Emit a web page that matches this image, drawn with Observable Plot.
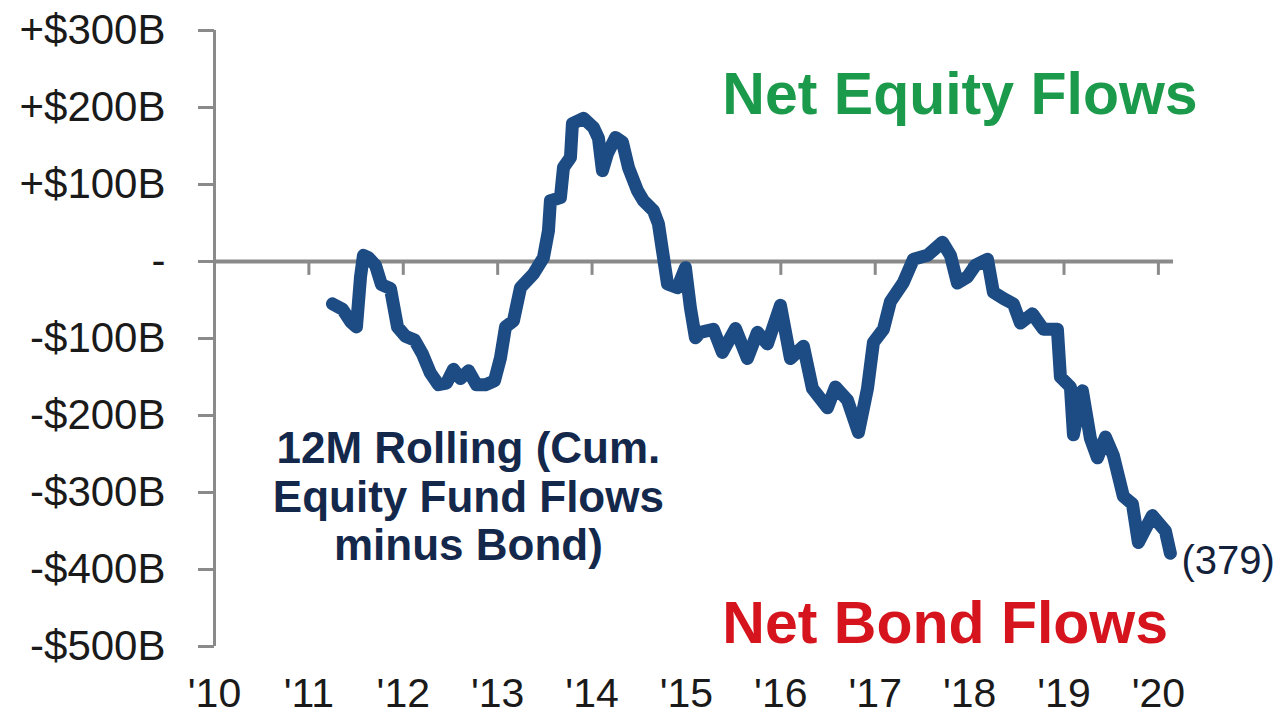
<!DOCTYPE html>
<html>
<head>
<meta charset="utf-8">
<script src="https://cdn.jsdelivr.net/npm/d3@7"></script>
<script src="https://cdn.jsdelivr.net/npm/@observablehq/plot@0.6"></script>
<style>
  html, body { margin: 0; padding: 0; background: #ffffff; }
  #chart { width: 1280px; height: 718px; }
</style>
</head>
<body>
<div id="chart"></div>
<script>
// 12M rolling cumulative equity fund flows minus bond fund flows ($B), by decimal year
const yearFrac = [
  2011.250, 2011.356, 2011.441, 2011.504, 2011.547, 2011.578, 2011.631, 2011.706, 2011.769, 2011.864,
  2011.939, 2012.023, 2012.119, 2012.203, 2012.288, 2012.373, 2012.458, 2012.532, 2012.606, 2012.691,
  2012.775, 2012.871, 2012.966, 2013.030, 2013.083, 2013.167, 2013.242, 2013.379, 2013.485, 2013.538,
  2013.559, 2013.665, 2013.697, 2013.771, 2013.792, 2013.909, 2014.015, 2014.068, 2014.110, 2014.163,
  2014.248, 2014.322, 2014.386, 2014.481, 2014.544, 2014.650, 2014.703, 2014.746, 2014.799, 2014.905,
  2014.989, 2015.042, 2015.095, 2015.148, 2015.286, 2015.381, 2015.519, 2015.646, 2015.752, 2015.858,
  2015.996, 2016.102, 2016.239, 2016.335, 2016.494, 2016.578, 2016.706, 2016.822, 2016.918, 2016.981,
  2017.087, 2017.161, 2017.299, 2017.405, 2017.553, 2017.712, 2017.797, 2017.871, 2017.977, 2018.061,
  2018.189, 2018.252, 2018.358, 2018.464, 2018.538, 2018.665, 2018.782, 2018.930, 2018.962, 2019.068,
  2019.100, 2019.195, 2019.280, 2019.354, 2019.439, 2019.523, 2019.629, 2019.725, 2019.788, 2019.936,
  2020.074, 2020.127
];
const netFlow = [
  -55, -62, -78, -85, -20, 8, 5, -5, -30, -35,
  -85, -97, -102, -120, -145, -160, -158, -140, -152, -142,
  -160, -160, -155, -125, -85, -77, -34, -16, 5, 40,
  79, 83, 122, 135, 179, 186, 174, 160, 118, 140,
  161, 155, 122, 92, 79, 66, 49, 14, -29, -34,
  -8, -60, -99, -92, -88, -118, -87, -126, -92, -107,
  -57, -126, -110, -165, -190, -163, -180, -222, -165, -105,
  -88, -52, -27, 3, 8, 25, 8, -28, -20, -5,
  3, -40, -48, -55, -80, -68, -88, -88, -150, -163,
  -225, -168, -230, -255, -228, -252, -305, -315, -365, -330,
  -350, -379
];

const xTicks = [2010, 2011, 2012, 2013, 2014, 2015, 2016, 2017, 2018, 2019, 2020];
const xTickLabels = ["'10", "'11", "'12", "'13", "'14", "'15", "'16", "'17", "'18", "'19", "'20"];
const zeroLineTicks = [2011, 2012, 2013, 2014, 2015, 2016, 2017, 2018, 2019, 2020];
const yTicks = [-500, -400, -300, -200, -100, 0, 100, 200, 300];

const series = yearFrac.map((t, i) => ({t, v: netFlow[i]}));
const last = series[series.length - 1];

const fmtY = v => v > 0 ? `+$${v}B` : v < 0 ? `-$${-v}B` : "-";
const fmtX = t => xTickLabels[xTicks.indexOf(t)];

const font = "'Liberation Sans', Arial, Helvetica, sans-serif";
const gray = "#8a8a8a";

const chart = Plot.plot({
  width: 1280,
  height: 718,
  marginLeft: 214,
  marginRight: 107,
  marginTop: 30,
  marginBottom: 72,
  style: {fontFamily: font, fontSize: "42px", color: "#1a1a1a", background: "#ffffff"},
  x: {domain: [2010, 2020.16]},
  y: {domain: [-500, 300]},
  marks: [
    // vertical axis line
    Plot.ruleX([2010], {y1: -500, y2: 300, stroke: gray, strokeWidth: 3}),
    // zero line with year ticks hanging below it
    Plot.ruleY([0], {x1: 2010, x2: 2020.16, stroke: gray, strokeWidth: 4}),
    Plot.ruleX(zeroLineTicks, {y1: 0, y2: -18, stroke: gray, strokeWidth: 3}),
    Plot.axisY({
      ticks: yTicks, tickFormat: fmtY, tickSize: 16, tickPadding: 33,
      stroke: gray, strokeWidth: 3, fill: "#1a1a1a", fontSize: 42, label: null
    }),
    Plot.axisX({
      ticks: xTicks, tickFormat: fmtX, tickSize: 0, tickPadding: 31,
      fill: "#1a1a1a", fontSize: 41, label: null
    }),
    Plot.line(series, {
      x: "t", y: "v", stroke: "#1d4b84", strokeWidth: 13,
      strokeLinejoin: "round", strokeLinecap: "round"
    }),
    Plot.text([last], {
      x: "t", y: "v", text: d => `(${Math.abs(d.v)})`,
      textAnchor: "start", dx: 11, dy: 8,
      fill: "#14213b", fontSize: 40
    }),
    Plot.text(["12M Rolling (Cum.\nEquity Fund Flows\nminus Bond)"], {
      x: 2012.69, y: -388, text: d => d, lineAnchor: "bottom", lineHeight: 1.1,
      textAnchor: "middle", fill: "#14284b", fontSize: 44, fontWeight: "bold"
    }),
    Plot.text(["Net Equity Flows"], {
      x: 2015.38, y: 192, text: d => d, lineAnchor: "bottom",
      textAnchor: "start", fill: "#1c9a4b", fontSize: 59, fontWeight: "bold"
    }),
    Plot.text(["Net Bond Flows"], {
      x: 2015.38, y: -496, text: d => d, lineAnchor: "bottom",
      textAnchor: "start", fill: "#d6141d", fontSize: 59, fontWeight: "bold"
    })
  ]
});

document.getElementById("chart").appendChild(chart);
</script>
</body>
</html>
